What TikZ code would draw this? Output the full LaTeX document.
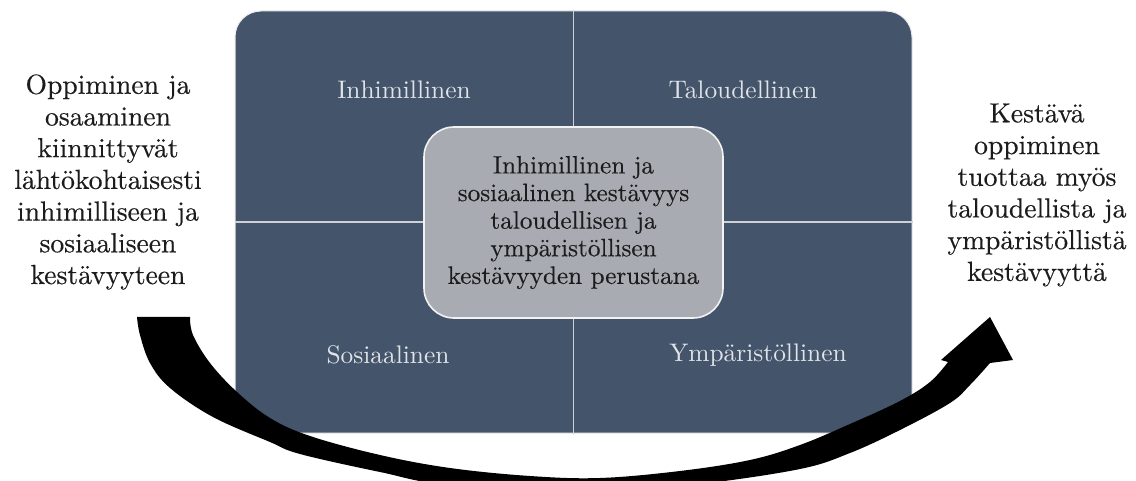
\documentclass[tikz,border=0pt]{standalone}
\usepackage{fontspec}
\newfontfamily\lmbold{lmroman10-regular.otf}[FakeBold=0.35]
\newfontfamily\lmplain{lmroman10-regular.otf}
\definecolor{slate}{RGB}{68,84,106}
\definecolor{midgray}{RGB}{168,172,178}
\definecolor{divider}{RGB}{205,210,216}
\definecolor{quadtext}{RGB}{224,228,233}
\definecolor{darktext}{RGB}{28,28,30}
\begin{document}
\begin{tikzpicture}[x=1pt,y=-1pt,
  sidetext/.style={align=center,text=darktext,font=\lmbold\fontsize{27.6}{31.7}\selectfont,inner sep=0},
  quadlabel/.style={text=quadtext,font=\lmplain\fontsize{25.4}{28}\selectfont,inner sep=0},
  centerbox/.style={draw=white!90!gray,line width=1.6pt,fill=midgray,rounded corners=30pt,
    minimum width=299pt,minimum height=191pt,align=center,text=darktext,
    font=\lmbold\fontsize{25.2}{27.6}\selectfont,inner sep=0},
  bigbox/.style={draw=white!85!gray,line width=1pt,fill=slate,rounded corners=26pt,
    minimum width=677pt,minimum height=422pt,inner sep=0},
  divline/.style={draw=divider,line width=1.8pt},
  arrowfill/.style={fill=black}]
\useasboundingbox (0,0) rectangle (1136,481);
\fill[white] (0,0) rectangle (1136,481);

\node[bigbox] (box) at (573.5,222) {};
\draw[divline] (box.north) -- (box.south);
\draw[divline] (box.west) -- (box.east);

\node[centerbox] (core) at (573.5,222.5) {Inhimillinen ja\\sosiaalinen kestävyys\\taloudellisen ja\\ympäristöllisen\\kestävyyden perustana};

\node[quadlabel] (q1) at (404,90) {Inhimillinen};
\node[quadlabel] (q2) at (743,90) {Taloudellinen};
\node[quadlabel] (q3) at (388,355) {Sosiaalinen};
\node[quadlabel] (q4) at (758,355) {Ympäristöllinen};

\node[sidetext] (left) at (108,182) {Oppiminen ja\\osaaminen\\kiinnittyvät\\lähtökohtaisesti\\inhimilliseen ja\\sosiaaliseen\\kestävyyteen};
\node[sidetext] (right) at (1037,195) {Kestävä\\oppiminen\\tuottaa myös\\taloudellista ja\\ympäristöllistä\\kestävyyttä};

\coordinate (arrowtip) at (990,317);
\fill[arrowfill] (137,317) -- (190,317)
  -- plot[smooth,tension=0.6] coordinates {(190,317) (193,335) (210,363) (237,392) (270,418) (310,436) (380,455) (450,468) (530,476) (600,478) (680,471) (750,460) (800,445) (850,424) (900,401) (930,382) (948,362)}
  -- (941,360) -- (arrowtip) -- (1013,360) -- (990,363)
  -- plot[smooth,tension=0.6] coordinates {(990,363) (970,385) (950,403) (900,430) (850,453) (800,469) (700,484) (600,492) (450,485) (380,472) (300,454) (270,442) (213,417) (170,388) (150,363) (140,335) (137,317)}
  -- cycle;
\end{tikzpicture}
\end{document}
